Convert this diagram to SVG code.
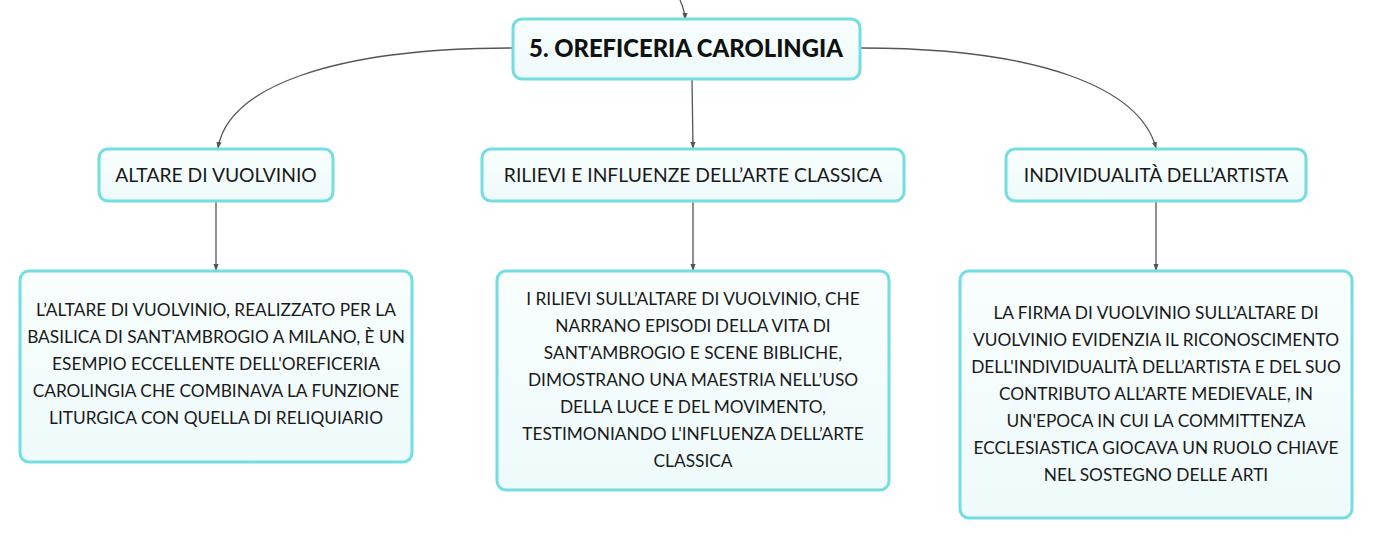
<svg xmlns="http://www.w3.org/2000/svg" width="1373" height="540" viewBox="0 0 1373 540">
<defs>
<linearGradient id="fill" x1="0" y1="0" x2="0" y2="1">
<stop offset="0" stop-color="#f9fefe"/>
<stop offset="1" stop-color="#eefafb"/>
</linearGradient>
<marker id="arr" viewBox="0 0 8 8" refX="7" refY="4" markerWidth="7" markerHeight="7" markerUnits="userSpaceOnUse" orient="auto">
<path d="M0,1 L8,4 L0,7 z" fill="#555"/>
</marker>
<style>
.box{fill:url(#fill);stroke:#74dde2;stroke-width:3}
.t{font-family:Lato,"Open Sans","Liberation Sans",sans-serif;font-size:17.3px;fill:#1a1a1a;text-anchor:middle}
.h{font-family:Lato,"Open Sans","Liberation Sans",sans-serif;font-size:19.3px;fill:#1a1a1a;text-anchor:middle}
.title{font-family:Lato,"Open Sans","Liberation Sans",sans-serif;font-size:23.8px;font-weight:900;fill:#111;text-anchor:middle}
.c{fill:none;stroke:#555;stroke-width:1.3;marker-end:url(#arr)}
</style>
</defs>
<rect width="1373" height="540" fill="#ffffff"/>
<g id="connectors">
<path class="c" d="M680,0 C683,7 685,12 685,19"/>
<path class="c" d="M513,48 C330,48 228,88 218,148"/>
<path class="c" d="M861,48 C1040,48 1140,88 1156,148"/>
<path class="c" d="M692,79 L693,148"/>
<path class="c" d="M216,201 L216,270"/>
<path class="c" d="M693,201 L693,270"/>
<path class="c" d="M1156,202 L1156,270"/>
</g>
<g id="root">
<rect class="box" x="513" y="19" width="347" height="60" rx="9"/>
<text class="title" x="686" y="57">5. OREFICERIA CAROLINGIA</text>
</g>
<g id="n-altare">
<rect class="box" x="99" y="149" width="234" height="52" rx="9"/>
<text class="h" x="216" y="182">ALTARE DI VUOLVINIO</text>
</g>
<g id="n-rilievi">
<rect class="box" x="482" y="149" width="422" height="52" rx="9"/>
<text class="h" x="693" y="182">RILIEVI E INFLUENZE DELL’ARTE CLASSICA</text>
</g>
<g id="n-individualita">
<rect class="box" x="1006" y="149" width="300" height="52" rx="9"/>
<text class="h" x="1156" y="182">INDIVIDUALITÀ DELL’ARTISTA</text>
</g>
<g id="d-altare">
<rect class="box" x="20" y="271" width="392" height="191" rx="9"/>
<text class="t" x="216" y="316">L’ALTARE DI VUOLVINIO, REALIZZATO PER LA</text>
<text class="t" x="216" y="343">BASILICA DI SANT'AMBROGIO A MILANO, È UN</text>
<text class="t" x="216" y="370">ESEMPIO ECCELLENTE DELL'OREFICERIA</text>
<text class="t" x="216" y="397">CAROLINGIA CHE COMBINAVA LA FUNZIONE</text>
<text class="t" x="216" y="424">LITURGICA CON QUELLA DI RELIQUIARIO</text>
</g>
<g id="d-rilievi">
<rect class="box" x="497" y="271" width="392" height="219" rx="9"/>
<text class="t" x="693" y="305">I RILIEVI SULL’ALTARE DI VUOLVINIO, CHE</text>
<text class="t" x="693" y="332">NARRANO EPISODI DELLA VITA DI</text>
<text class="t" x="693" y="359">SANT'AMBROGIO E SCENE BIBLICHE,</text>
<text class="t" x="693" y="386">DIMOSTRANO UNA MAESTRIA NELL’USO</text>
<text class="t" x="693" y="413">DELLA LUCE E DEL MOVIMENTO,</text>
<text class="t" x="693" y="440">TESTIMONIANDO L'INFLUENZA DELL’ARTE</text>
<text class="t" x="693" y="467">CLASSICA</text>
</g>
<g id="d-individualita">
<rect class="box" x="960" y="271" width="392" height="247" rx="9"/>
<text class="t" x="1156" y="319">LA FIRMA DI VUOLVINIO SULL’ALTARE DI</text>
<text class="t" x="1156" y="346">VUOLVINIO EVIDENZIA IL RICONOSCIMENTO</text>
<text class="t" x="1156" y="373">DELL'INDIVIDUALITÀ DELL’ARTISTA E DEL SUO</text>
<text class="t" x="1156" y="400">CONTRIBUTO ALL’ARTE MEDIEVALE, IN</text>
<text class="t" x="1156" y="427">UN'EPOCA IN CUI LA COMMITTENZA</text>
<text class="t" x="1156" y="454">ECCLESIASTICA GIOCAVA UN RUOLO CHIAVE</text>
<text class="t" x="1156" y="481">NEL SOSTEGNO DELLE ARTI</text>
</g>
</svg>
